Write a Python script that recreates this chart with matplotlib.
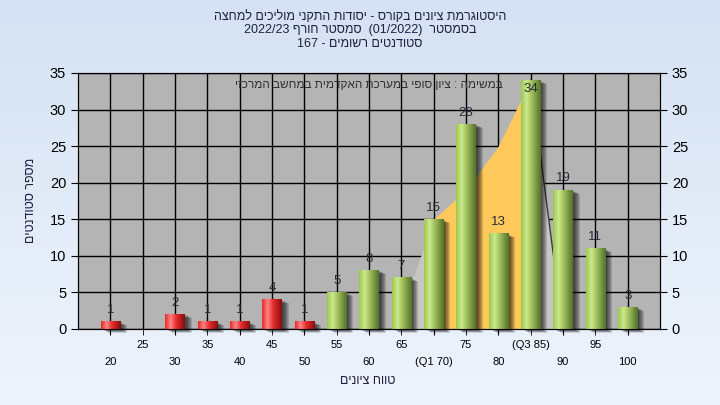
import re
import numpy as np
import matplotlib
matplotlib.use("Agg")
import matplotlib.pyplot as plt
from matplotlib.colors import LinearSegmentedColormap
from matplotlib.patches import Rectangle
from matplotlib.transforms import ScaledTranslation

plt.rcParams['font.family'] = ['Liberation Sans', 'DejaVu Sans']

# === data ===
grades = [20, 25, 30, 35, 40, 45, 50, 55, 60, 65, 70, 75, 80, 85, 90, 95, 100]
counts = [1, 0, 2, 1, 1, 4, 1, 5, 8, 7, 15, 28, 13, 34, 19, 11, 3]
tick_labels = ["20", "25", "30", "35", "40", "45", "50", "55", "60", "65",
               "(Q1 70)", "75", "80", "(Q3 85)", "90", "95", "100"]
pass_grade = 55
q1, q3 = 70, 85
# area behind the bars (grade, value)
area_grades = [64, 70, 75, 80, 85, 90]
area_values = [0, 15, 19, 25, 34, 0]

title_lines = ["היסטוגרמת ציונים בקורס - יסודות התקני מוליכים למחצה",
               "בסמסטר  (01/2022)  סמסטר חורף 2022/23",
               "סטודנטים רשומים - 167"]
note_text = "במשימה : ציון סופי במערכת האקדמית במחשב המרכזי"
x_title = "טווח ציונים"
y_title = "מספר סטודנטים"


def heb(s):
    # simple visual ordering for right-to-left text
    r = s[::-1]
    r = re.sub(r'[0-9A-Za-z/.]+', lambda m: m.group(0)[::-1], r)
    return r.translate(str.maketrans('()', ')('))


def gidx(g):
    return (np.asarray(g, dtype=float) - grades[0]) / 5.0


# === figure + background gradient ===
fig = plt.figure(figsize=(7.2, 4.05), dpi=100)
bg = fig.add_axes([0, 0, 1, 1], zorder=-10)
bg_cmap = LinearSegmentedColormap.from_list("bg", ["#d5e2f3", "#eef4fc"])
bg.imshow(np.linspace(0, 1, 256).reshape(-1, 1), cmap=bg_cmap, aspect='auto',
          extent=(0, 1, 0, 1))
bg.set_axis_off()

ax = fig.add_axes([78 / 720, 76 / 405, 582 / 720, 256 / 405])
ax.set_facecolor("#b4b4b4")
ax.set_axisbelow(True)

# === area ===
ax_x = gidx(area_grades)
ax.fill_between(ax_x, area_values, 0, color="#c6c6c6", lw=0, zorder=1)
mask = [(g >= q1) and (g <= q3) for g in area_grades]
ax.fill_between(ax_x[mask], np.array(area_values)[mask], 0, color="#fec95a", lw=0, zorder=1.2)
ax.plot(ax_x[-2:], area_values[-2:], color="#3a3a3a", lw=1, zorder=1.3)

# === bars (gradient + shadow) ===
red_cmap = LinearSegmentedColormap.from_list(
    "r", [(0, "#e82828"), (0.28, "#ff8484"), (0.55, "#e83030"), (1, "#8a0c0c")])
green_cmap = LinearSegmentedColormap.from_list(
    "g", [(0, "#9cc84c"), (0.28, "#cde98f"), (0.55, "#9ebd5a"), (1, "#55722a")])
grad = np.linspace(0, 1, 64).reshape(1, -1)
w = 0.6
for i, (g, v) in enumerate(zip(grades, counts)):
    if v <= 0:
        continue
    for k, dx in enumerate([2, 3, 4, 5, 6, 7]):
        sh = Rectangle((i - w / 2, 0), w, v, color="black", alpha=0.14, lw=0,
                       zorder=2, clip_on=False,
                       transform=ax.transData + ScaledTranslation(dx / 100, -dx / 200,
                                                                  fig.dpi_scale_trans))
        ax.add_patch(sh)
    cmap = red_cmap if g < pass_grade else green_cmap
    ax.imshow(grad, cmap=cmap, aspect='auto', extent=(i - w / 2, i + w / 2, 0, v),
              zorder=3, interpolation='bilinear')
    if v + 2.5 > 35:
        ax.annotate(str(v), (i, v), xytext=(0, -2), textcoords='offset points',
                    ha='center', va='top', fontsize=9.5, color="#2a2a3a", zorder=5)
    else:
        ax.annotate(str(v), (i, v), xytext=(0, 4), textcoords='offset points',
                    ha='center', va='bottom', fontsize=9.5, color="#2a2a3a", zorder=5)

# === axes ===
ax.set_xlim(-1, len(grades))
ax.set_ylim(0, 35)
idx = np.arange(len(grades))
ax.set_xticks(idx[::2])
ax.set_xticklabels(tick_labels[::2])
ax.set_xticks(idx[1::2], minor=True)
ax.set_xticklabels(tick_labels[1::2], minor=True)
ax.tick_params(axis='x', which='major', length=4, pad=16, labelsize=8)
ax.tick_params(axis='x', which='minor', length=4, pad=4, labelsize=8)
ax.set_yticks(range(0, 36, 5))
ax.tick_params(axis='y', length=5, labelsize=10.5)
ax.grid(True, which='both', axis='x', color='black', lw=1)
ax.grid(True, axis='y', color='black', lw=1)
for s in ax.spines.values():
    s.set_color('black')

ax2 = ax.twinx()
ax2.set_ylim(0, 35)
ax2.set_yticks(range(0, 36, 5))
ax2.tick_params(axis='y', length=5, labelsize=10.5)

ax.text(0.5, 0.953, heb(note_text), transform=ax.transAxes, ha='center', va='center',
        fontsize=8.5, color="#303030", zorder=6)

# === titles ===
for line, yy in zip(title_lines, [0.958, 0.925, 0.891]):
    fig.text(0.5, yy, heb(line), ha='center', va='center', fontsize=9, color="#202040")
fig.text(368 / 720, 0.059, heb(x_title), ha='center', va='center', fontsize=9, color="#202040")
fig.text(31 / 720, 0.506, heb(y_title), ha='center', va='center', rotation=90,
         fontsize=9, color="#202040")

plt.savefig("out.png", dpi=100)
